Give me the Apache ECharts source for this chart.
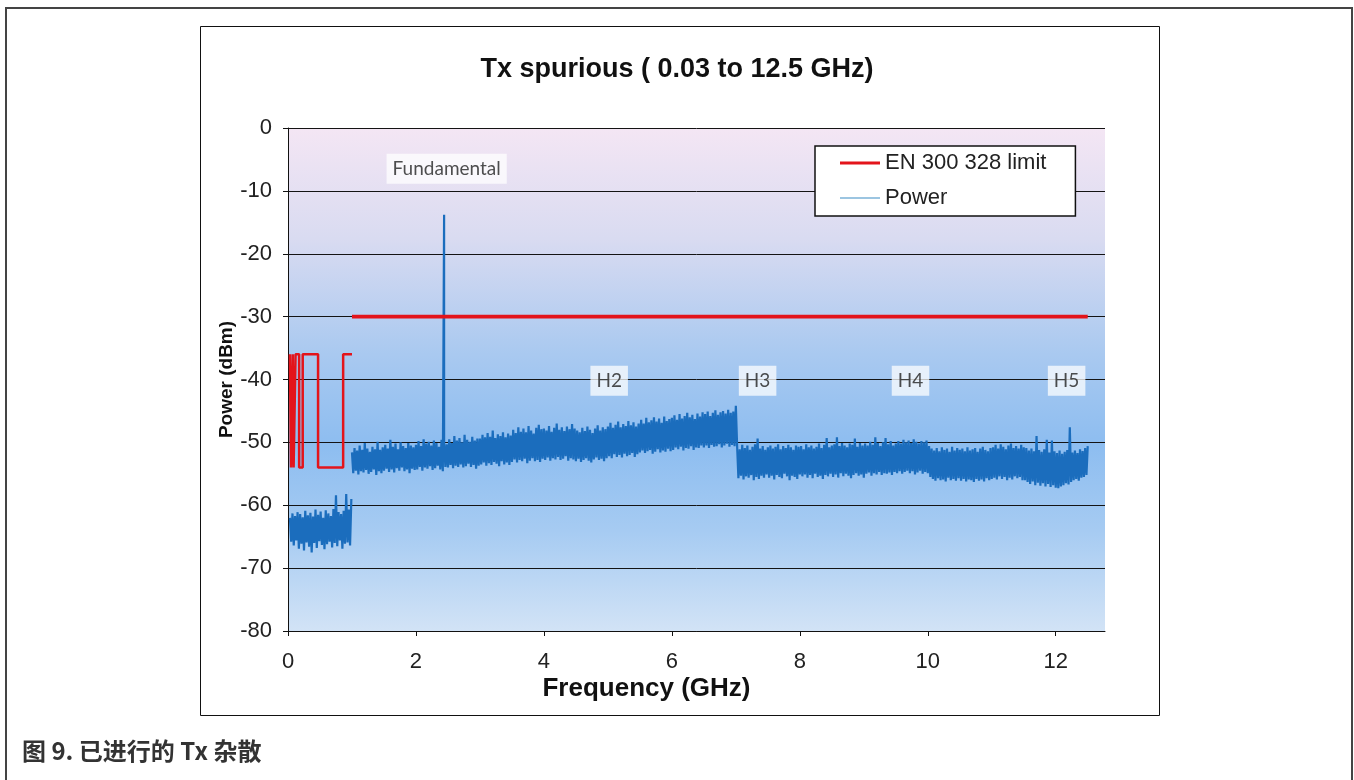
<!DOCTYPE html>
<html>
<head>
<meta charset="utf-8">
<script src="https://cdn.jsdelivr.net/npm/echarts@6/dist/echarts.min.js"></script>
<style>
  html, body { margin: 0; padding: 0; background: #ffffff; }
  #chart { width: 1354px; height: 780px; }
</style>
</head>
<body>
<div id="chart"></div>
<script>
// ---- EN 300 328 spurious limit (GHz / dBm) ----
// Below 1 GHz: band edges and the level that applies inside each band
const limitLowEdges = [0.03, 0.047, 0.074, 0.0875, 0.118, 0.174, 0.23, 0.47, 0.862, 1.0];
const limitLowLevels = [-36, -54, -36, -54, -36, -54, -36, -54, -36];
// 1 GHz and above
const limitHighEdges = [1.0, 12.5];
const limitHighLevel = -30;

// ---- Measured power sweep (dBm), one reading every sweepStep GHz ----
const sweepStep = 0.02;
const sweepAStart = 0.03;   // 30 MHz .. 1 GHz
const sweepA = [
  -62.0, -65.8, -61.3, -66.4, -61.7, -65.6, -61.1, -66.9, -61.4, -66.1,
  -61.9, -67.2, -60.9, -65.9, -61.6, -66.6, -61.2, -67.5, -61.8, -66.0,
  -60.7, -66.8, -61.5, -65.7, -61.0, -66.3, -62.0, -67.0, -60.8, -66.2,
  -61.3, -65.8, -61.7, -66.7, -60.6, -66.0, -58.4, -66.5, -61.1, -65.6,
  -61.4, -66.9, -60.9, -66.1, -58.2, -65.9, -60.7, -66.4, -59.0
];
const sweepBStart = 1.0;    // 1 GHz .. 7 GHz
const sweepB = [
  -51.6, -54.9, -50.9, -54.5, -51.3, -55.1, -50.5, -54.6, -51.2, -54.8,
  -50.1, -54.4, -51.0, -55.0, -51.5, -54.7, -50.7, -54.3, -51.1, -55.2,
  -49.9, -54.6, -51.2, -54.9, -50.8,
  -54.5, -50.4, -54.2, -51.0, -54.7, -49.6, -54.3, -50.7, -54.8, -50.2,
  -54.1, -51.1, -54.5, -50.0, -54.0, -50.6, -54.6, -50.9, -54.3, -50.1,
  -54.9, -50.5, -54.2, -50.8, -54.4,
  -50.4, -54.3, -49.8, -53.9, -50.6, -54.5, -49.5, -54.0, -50.2, -54.2,
  -49.9, -53.8, -50.5, -54.4, -49.7, -54.1, -50.1, -53.7, -50.7, -54.3,
  -49.6, -54.6, -50.0, -53.9, -50.3,
  -54.0, -49.5, -53.6, -50.1, -54.1, -49.0, -53.7, -49.7, -53.9, -49.3,
  -53.5, -50.0, -54.0, -48.8, -53.8, -49.6, -53.4, -49.9, -53.9, -49.1,
  -53.6, -49.7, -54.2, -49.4, -53.7,
  -49.4, -53.5, -48.8, -53.2, -49.2, -53.7, -48.5, -53.3, -49.1, -53.6,
  -48.1, -53.1, -49.3, -53.4, -48.7, -53.8, -49.0, -53.0, -48.4, -53.5,
  -49.2, -53.2, -48.6, -53.6, -48.9,
  -53.1, -48.0, -52.7, -48.5, -53.2, -47.6, -52.8, -48.3, -53.0, -47.8,
  -52.6, -48.4, -53.3, -47.4, -52.9, -48.1, -52.5, -48.6, -53.0, -47.7,
  -52.8, -47.2, -53.1, -47.9, -52.6,
  -47.8, -52.8, -48.1, -52.4, -47.4, -52.9, -48.3, -52.5, -47.7, -52.7,
  -47.0, -52.3, -48.0, -52.8, -47.6, -52.6, -48.2, -52.2, -47.5, -52.9,
  -47.9, -52.5, -47.1, -52.7, -47.8,
  -53.0, -48.1, -52.6, -48.4, -53.1, -47.7, -52.8, -48.2, -52.5, -47.5,
  -52.9, -48.0, -53.2, -48.5, -52.7, -47.8, -52.4, -47.3, -52.8, -48.1,
  -52.6, -47.6, -53.0, -47.9, -52.5,
  -47.5, -52.2, -46.9, -52.5, -47.7, -51.9, -47.2, -52.3, -46.7, -52.0,
  -47.6, -52.4, -47.1, -51.8, -47.4, -52.2, -46.6, -52.0, -47.3, -51.7,
  -46.8, -52.3, -47.5, -51.9, -47.0,
  -51.6, -46.4, -51.3, -47.0, -51.7, -46.1, -51.4, -46.8, -51.2, -46.5,
  -51.8, -46.0, -51.5, -46.7, -51.1, -46.2, -51.6, -46.9, -51.3, -45.9,
  -51.5, -46.6, -51.0, -46.3, -51.4,
  -46.1, -51.2, -45.7, -50.8, -46.4, -51.1, -45.5, -50.7, -46.2, -51.3,
  -45.8, -50.9, -45.3, -51.0, -46.0, -50.6, -45.6, -51.2, -46.3, -50.8,
  -45.4, -50.9, -45.9, -50.5, -45.2,
  -50.8, -45.5, -50.5, -45.1, -50.9, -45.8, -50.4, -45.3, -50.7, -44.9,
  -50.6, -45.6, -50.3, -45.2, -50.8, -45.0, -50.5, -45.4, -50.2, -44.8,
  -50.7, -45.3, -50.4, -45.1, -50.6,
  -44.2
];
const sweepCStart = 7.02;   // 7 GHz .. 12.5 GHz
const sweepC = [
  -50.6, -55.7, -51.1, -55.3, -50.4, -55.9, -50.9, -55.4, -50.5, -55.6,
  -51.2, -55.2, -50.7, -56.0, -50.3, -55.5, -49.4, -55.8, -51.0, -55.3,
  -50.6, -55.6, -51.2, -55.1, -50.8,
  -55.6, -50.5, -55.3, -51.0, -55.9, -50.7, -55.2, -50.3, -55.5, -51.1,
  -55.7, -50.6, -55.0, -50.9, -55.4, -50.4, -56.0, -50.8, -55.3, -51.2,
  -55.5, -50.5, -55.8, -50.7, -55.1,
  -50.6, -55.4, -51.1, -55.1, -50.3, -55.6, -50.8, -55.2, -50.5, -55.7,
  -51.0, -55.0, -50.7, -55.5, -50.2, -55.3, -50.9, -55.8, -50.4, -55.2,
  -49.3, -55.4, -50.8, -55.0, -50.5,
  -55.5, -50.3, -55.1, -49.2, -55.6, -50.6, -54.9, -50.1, -55.4, -50.5,
  -55.0, -50.8, -55.3, -50.2, -55.7, -50.4, -55.2, -49.4, -54.9, -50.7,
  -55.3, -50.1, -55.1, -50.5, -55.6,
  -50.2, -55.0, -50.5, -54.8, -49.9, -55.3, -50.4, -54.9, -49.2, -55.1,
  -50.1, -54.7, -50.6, -55.2, -50.0, -54.9, -49.3, -55.0, -50.3, -54.8,
  -49.8, -55.2, -50.5, -54.7, -50.2,
  -54.9, -49.8, -54.6, -50.2, -55.0, -49.6, -54.7, -50.0, -54.5, -49.7,
  -54.9, -50.1, -54.6, -49.5, -55.1, -49.9, -54.8, -50.2, -54.5, -49.8,
  -55.0, -50.0, -54.7, -49.7, -54.9,
  -50.6, -55.5, -51.0, -55.8, -51.3, -56.1, -50.9, -55.7, -51.4, -56.0,
  -50.8, -55.9, -51.2, -56.2, -51.0, -55.6, -51.5, -56.0, -50.7, -55.8,
  -51.3, -56.1, -50.9, -55.7, -51.2,
  -56.1, -51.0, -55.8, -51.4, -56.2, -50.8, -55.9, -51.3, -56.0, -51.1,
  -56.3, -50.9, -55.8, -51.5, -56.1, -51.0, -55.9, -50.7, -56.2, -51.2,
  -55.7, -51.4, -56.0, -50.9, -55.8,
  -50.8, -55.6, -50.4, -55.9, -51.0, -55.4, -50.3, -55.8, -50.7, -55.5,
  -51.1, -56.0, -50.5, -55.6, -50.2, -55.9, -50.9, -55.4, -50.6, -55.7,
  -51.0, -55.5, -50.4, -56.0, -50.8,
  -56.0, -50.9, -56.3, -51.3, -56.6, -51.0, -56.2, -51.4, -56.8, -49.0,
  -56.4, -51.2, -56.9, -51.5, -56.5, -51.1, -57.0, -49.6, -56.6, -51.6,
  -57.1, -49.7, -56.8, -51.4, -57.2,
  -51.7, -57.3, -51.3, -57.0, -51.8, -56.8, -51.5, -56.5, -51.2, -56.7,
  -47.6, -56.3, -51.6, -56.0, -51.3, -55.8, -51.7, -56.1, -51.1, -55.6,
  -51.4, -55.5, -50.9, -55.2, -50.6
];
// Carrier (fundamental) peak
const fundamentalFreq = 2.44;
const fundamentalPeak = -13.8;

// ---- Annotations ----
const noteNames = ['Fundamental', 'H2', 'H3', 'H4', 'H5'];
const noteFreqs = [2.48, 5.02, 7.34, 9.73, 12.17];
const noteLevels = [-6.5, -40.2, -40.2, -40.2, -40.2];

// ---- Axis ticks ----
const xTicks = [0, 2, 4, 6, 8, 10, 12];
const yTicks = [0, -10, -20, -30, -40, -50, -60, -70, -80];

// ---- Build series data ----
function sweepPoints(start, values, out, insertPeak) {
  values.forEach(function (v, i) {
    const f = +(start + i * sweepStep).toFixed(4);
    if (insertPeak && !insertPeak.done && f >= insertPeak.f - 1e-9) {
      out.push([insertPeak.f, insertPeak.v]);
      insertPeak.done = true;
    }
    out.push([f, v]);
  });
}
const powerData = [];
sweepPoints(sweepAStart, sweepA, powerData);
powerData.push([1.0, null]);
sweepPoints(sweepBStart, sweepB, powerData, { f: fundamentalFreq, v: fundamentalPeak, done: false });
sweepPoints(sweepCStart, sweepC, powerData);

const limitLowData = [];
limitLowLevels.forEach(function (lv, i) {
  limitLowData.push([limitLowEdges[i], lv]);
  limitLowData.push([limitLowEdges[i + 1], lv]);
});
const limitHighData = limitHighEdges.map(function (f) { return [f, limitHighLevel]; });

const noteData = noteNames.map(function (n, i) { return { name: n, value: [noteFreqs[i], noteLevels[i]] }; });

const RED = '#e3141b';
const BLUE = '#1b6dbd';
const FONT = '"Liberation Sans", Arial, sans-serif';

const chart = echarts.init(document.getElementById('chart'), null, { renderer: 'canvas' });
chart.setOption({
  backgroundColor: '#ffffff',
  animation: false,
  title: {
    text: 'Tx spurious ( 0.03 to 12.5 GHz)',
    left: 'center',
    top: 51,
    textStyle: { fontFamily: FONT, fontSize: 27, fontWeight: 'bold', color: '#111' }
  },
  legend: {
    orient: 'vertical',
    left: 815,
    top: 146,
    padding: [6, 29, 7, 25],
    itemGap: 13,
    itemWidth: 40,
    itemHeight: 14,
    backgroundColor: '#ffffff',
    borderColor: '#111',
    borderWidth: 1.5,
    borderRadius: 0,
    textStyle: { fontFamily: FONT, fontSize: 22, color: '#222', lineHeight: 22 },
    data: [
      { name: 'EN 300 328 limit', icon: 'path://M0,0H40V3H0Z', itemStyle: { color: RED } },
      { name: 'Power', icon: 'path://M0,0H40V1.2H0Z', itemStyle: { color: '#3a8cc4' } }
    ]
  },
  grid: {
    left: 288, top: 128, width: 817, height: 503,
    show: true,
    borderWidth: 0,
    backgroundColor: {
      type: 'linear', x: 0, y: 0, x2: 0, y2: 1,
      colorStops: [
        { offset: 0, color: '#f4e6f4' },
        { offset: 0.22, color: '#d9dbf1' },
        { offset: 0.45, color: '#a9c9f0' },
        { offset: 0.63, color: '#8dbdf0' },
        { offset: 0.8, color: '#a6cbf2' },
        { offset: 1, color: '#d2e3f6' }
      ]
    }
  },
  xAxis: {
    type: 'value',
    min: 0,
    max: 12.77,
    name: 'Frequency (GHz)',
    nameLocation: 'middle',
    nameGap: 45,
    nameMoveOverlap: false,
    nameTextStyle: { fontFamily: FONT, fontSize: 26, fontWeight: 'bold', color: '#111', padding: [0, 100, 0, 0] },
    axisLine: { show: true, onZero: false, lineStyle: { color: '#111', width: 1 } },
    axisTick: { show: true, inside: false, length: 5, lineStyle: { color: '#111' }, customValues: xTicks },
    axisLabel: { fontFamily: FONT, fontSize: 22, color: '#222', margin: 20, customValues: xTicks },
    splitLine: { show: false }
  },
  yAxis: {
    type: 'value',
    min: -80,
    max: 0,
    interval: 10,
    name: 'Power (dBm)',
    nameLocation: 'middle',
    nameGap: 52,
    nameMoveOverlap: false,
    nameTextStyle: { fontFamily: FONT, fontSize: 19, fontWeight: 'bold', color: '#111' },
    axisLine: { show: true, onZero: false, lineStyle: { color: '#111', width: 1 } },
    axisTick: { show: true, inside: false, length: 5, lineStyle: { color: '#111' }, customValues: yTicks },
    axisLabel: { fontFamily: FONT, fontSize: 22, color: '#222', margin: 16, customValues: yTicks },
    splitLine: { show: true, lineStyle: { color: '#141414', width: 1 } }
  },
  series: [
    {
      name: 'EN 300 328 limit',
      type: 'line',
      data: limitLowData,
      symbol: 'none',
      lineStyle: { color: RED, width: 2.5 },
      itemStyle: { color: RED },
      z: 4
    },
    {
      name: 'EN 300 328 limit',
      type: 'line',
      data: limitHighData,
      symbol: 'none',
      lineStyle: { color: RED, width: 3.8 },
      itemStyle: { color: RED },
      z: 4
    },
    {
      name: 'Power',
      type: 'line',
      data: powerData,
      symbol: 'none',
      connectNulls: false,
      sampling: null,
      lineStyle: { color: BLUE, width: 2.2 },
      itemStyle: { color: BLUE },
      z: 3
    },
    {
      name: 'notes',
      type: 'scatter',
      data: noteData,
      symbolSize: 0,
      silent: true,
      z: 5,
      label: {
        show: true,
        position: 'inside',
        formatter: '{b}',
        fontFamily: 'Lato, "Open Sans", sans-serif',
        fontSize: 19,
        color: '#222',
        backgroundColor: 'rgba(255,255,255,0.92)',
        padding: [6, 6, 5, 6]
      }
    }
  ],
  graphic: [
    { type: 'rect', shape: { x: 6, y: 8, width: 1346, height: 800 },
      style: { fill: 'none', stroke: '#444', lineWidth: 2 }, silent: true, z: -10 },
    { type: 'rect', shape: { x: 200.5, y: 26.5, width: 959, height: 689 },
      style: { fill: 'none', stroke: '#111', lineWidth: 1 }, silent: true, z: -9 },
    { type: 'text', x: 22, y: 739,
      style: { text: '图 9. 已进行的 Tx 杂散', fill: '#333', fontSize: 24, fontWeight: 'bold',
               fontFamily: '"Noto Sans CJK SC", "Noto Sans", sans-serif' } }
  ]
});
</script>
</body>
</html>
